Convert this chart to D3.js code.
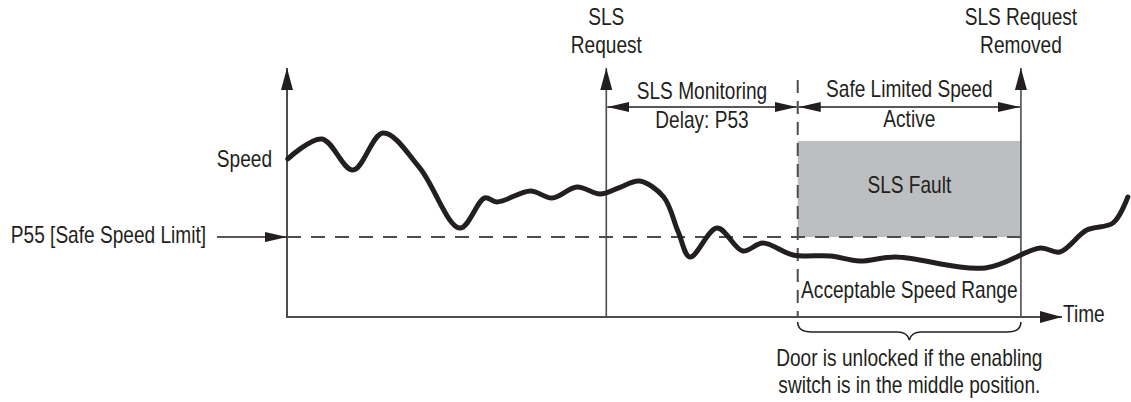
<!DOCTYPE html>
<html>
<head>
<meta charset="utf-8">
<script src="https://cdn.jsdelivr.net/npm/d3@7"></script>
<style>
  body { margin: 0; background: #fff; }
  svg text { font-family: "Liberation Sans", Arial, sans-serif; font-size: 23px; fill: #231f20; }
</style>
</head>
<body>
<svg id="chart" width="1131" height="402"></svg>
<script>
// speed trace (time 0..100 = axis length, speed 0..100 = axis height)
const traceTime  = [0.1, 4.5, 8.5, 12.4, 17.1, 22.3, 25.5, 27.1, 31.4, 34.2, 37.4, 40.4, 42.9, 45.5, 48.6, 50.5, 52.0, 55.5, 58.8, 61.4, 65.3, 70.1, 73.9, 78.5, 90.1, 97.2, 99.7, 103.2, 106.6, 108.5];
const traceSpeed = [63.5, 71.5, 59.0, 73.9, 60.0, 35.7, 47.8, 46.2, 50.6, 47.8, 52.2, 49.4, 52.0, 54.6, 48.2, 34.0, 24.1, 35.7, 26.5, 29.7, 24.9, 24.5, 22.5, 24.1, 19.7, 27.7, 26.1, 34.9, 37.8, 48.2];

// event times and levels
const slsRequestTime = 41.2;
const slsActiveTime  = 65.9;
const slsRemovedTime = 94.7;
const safeSpeedLimit = 32.1;
const faultTop       = 70.7;

// labels
const requestLabel  = ["SLS", "Request"];
const removedLabel  = ["SLS Request", "Removed"];
const delayLabel    = ["SLS Monitoring", "Delay: P53"];
const activeLabel   = ["Safe Limited Speed", "Active"];
const noteLabel     = ["Door is unlocked if the enabling", "switch is in the middle position."];

const svg = d3.select('#chart');
const ink = '#231f20';
const axisGrey = '#4d4d4f';
const squeeze = 0.83;   // condensed look of the original typeface

const x = d3.scaleLinear().domain([0, 100]).range([287, 1062]);
const y = d3.scaleLinear().domain([0, 100]).range([317, 68]);

// arrowheads
const defs = svg.append('defs');
function marker(id, len, half) {
    defs.append('marker')
        .attr('id', id)
        .attr('markerUnits', 'userSpaceOnUse')
        .attr('viewBox', `0 ${-half} ${len} ${half * 2}`)
        .attr('refX', len).attr('refY', 0)
        .attr('markerWidth', len).attr('markerHeight', half * 2)
        .attr('orient', 'auto-start-reverse')
        .append('path')
        .attr('d', `M0,${-half}L${len},0L0,${half}Z`)
        .attr('fill', ink);
}
marker('big', 22, 6);
marker('small', 22, 5);

// grey fault area
svg.append('rect')
    .attr('x', x(slsActiveTime)).attr('y', y(faultTop))
    .attr('width', x(slsRemovedTime) - x(slsActiveTime))
    .attr('height', y(safeSpeedLimit) - y(faultTop))
    .attr('fill', '#bcbec0');

// safe speed limit dashed line
svg.append('line')
    .attr('x1', x(0)).attr('x2', x(slsRemovedTime))
    .attr('y1', y(safeSpeedLimit)).attr('y2', y(safeSpeedLimit))
    .attr('stroke', axisGrey).attr('stroke-width', 2)
    .attr('stroke-dasharray', '14,10');

// SLS active dashed vertical
svg.append('line')
    .attr('x1', x(slsActiveTime)).attr('x2', x(slsActiveTime))
    .attr('y1', 80).attr('y2', y(0))
    .attr('stroke', axisGrey).attr('stroke-width', 2)
    .attr('stroke-dasharray', '13,8');

// axes
svg.append('line')
    .attr('x1', x(0)).attr('x2', x(0)).attr('y1', y(0) + 1).attr('y2', y(100))
    .attr('stroke', axisGrey).attr('stroke-width', 2).attr('marker-end', 'url(#big)');
svg.append('line')
    .attr('x1', x(0) - 1).attr('x2', x(100)).attr('y1', y(0)).attr('y2', y(0))
    .attr('stroke', axisGrey).attr('stroke-width', 2).attr('marker-end', 'url(#big)');

// request / removed lines
[slsRequestTime, slsRemovedTime].forEach(t => {
    svg.append('line')
        .attr('x1', x(t)).attr('x2', x(t)).attr('y1', y(0)).attr('y2', y(100))
        .attr('stroke', axisGrey).attr('stroke-width', 1.6).attr('marker-end', 'url(#big)');
});

// P55 pointer
svg.append('line')
    .attr('x1', 217).attr('x2', x(0))
    .attr('y1', y(safeSpeedLimit)).attr('y2', y(safeSpeedLimit))
    .attr('stroke', ink).attr('stroke-width', 1.5).attr('marker-end', 'url(#small)');

// double arrows for the intervals
const spanY = 107;
[[slsRequestTime, slsActiveTime], [slsActiveTime, slsRemovedTime]].forEach(([a, b]) => {
    svg.append('line')
        .attr('x1', x(a) + 1).attr('x2', x(b) - 1)
        .attr('y1', spanY).attr('y2', spanY)
        .attr('stroke', ink).attr('stroke-width', 1.5)
        .attr('marker-start', 'url(#small)').attr('marker-end', 'url(#small)');
});

// speed trace
const line = d3.line()
    .x(i => x(traceTime[i]))
    .y(i => y(traceSpeed[i]))
    .curve(d3.curveCatmullRom.alpha(0.5));
svg.append('path')
    .attr('d', line(d3.range(traceTime.length)))
    .attr('fill', 'none').attr('stroke', ink)
    .attr('stroke-width', 5).attr('stroke-linecap', 'round').attr('stroke-linejoin', 'round');

// brace under the active span
const bx0 = x(slsActiveTime), bx1 = x(slsRemovedTime), bm = (bx0 + bx1) / 2;
svg.append('path')
    .attr('d', `M${bx0},322 Q${bx0},332 ${bx0 + 14},332 L${bm - 12},332 Q${bm - 2},332 ${bm},340 Q${bm + 2},332 ${bm + 12},332 L${bx1 - 14},332 Q${bx1},332 ${bx1},322`)
    .attr('fill', 'none').attr('stroke', ink).attr('stroke-width', 1.5);

// texts (horizontally squeezed to mimic the condensed face)
function label(lines, cx, baselines, anchor = 'middle') {
    lines.forEach((s, i) => {
        svg.append('text')
            .attr('transform', `translate(${cx},${baselines[i]}) scale(${squeeze},1)`)
            .attr('text-anchor', anchor).text(s);
    });
}
label(requestLabel, x(slsRequestTime), [25, 53]);
label(removedLabel, x(slsRemovedTime), [25, 53]);
label(delayLabel, (x(slsRequestTime) + x(slsActiveTime)) / 2, [99, 128]);
label(activeLabel, (x(slsActiveTime) + x(slsRemovedTime)) / 2, [97, 127]);
label(['SLS Fault'], (x(slsActiveTime) + x(slsRemovedTime)) / 2, [193]);
label(['Acceptable Speed Range'], (x(slsActiveTime) + x(slsRemovedTime)) / 2, [298]);
label(noteLabel, bm, [366, 393]);
label(['Speed'], 272, [167], 'end');
label(['P55 [Safe Speed Limit]'], 206, [243], 'end');
label(['Time'], 1063, [322], 'start');
</script>
</body>
</html>
